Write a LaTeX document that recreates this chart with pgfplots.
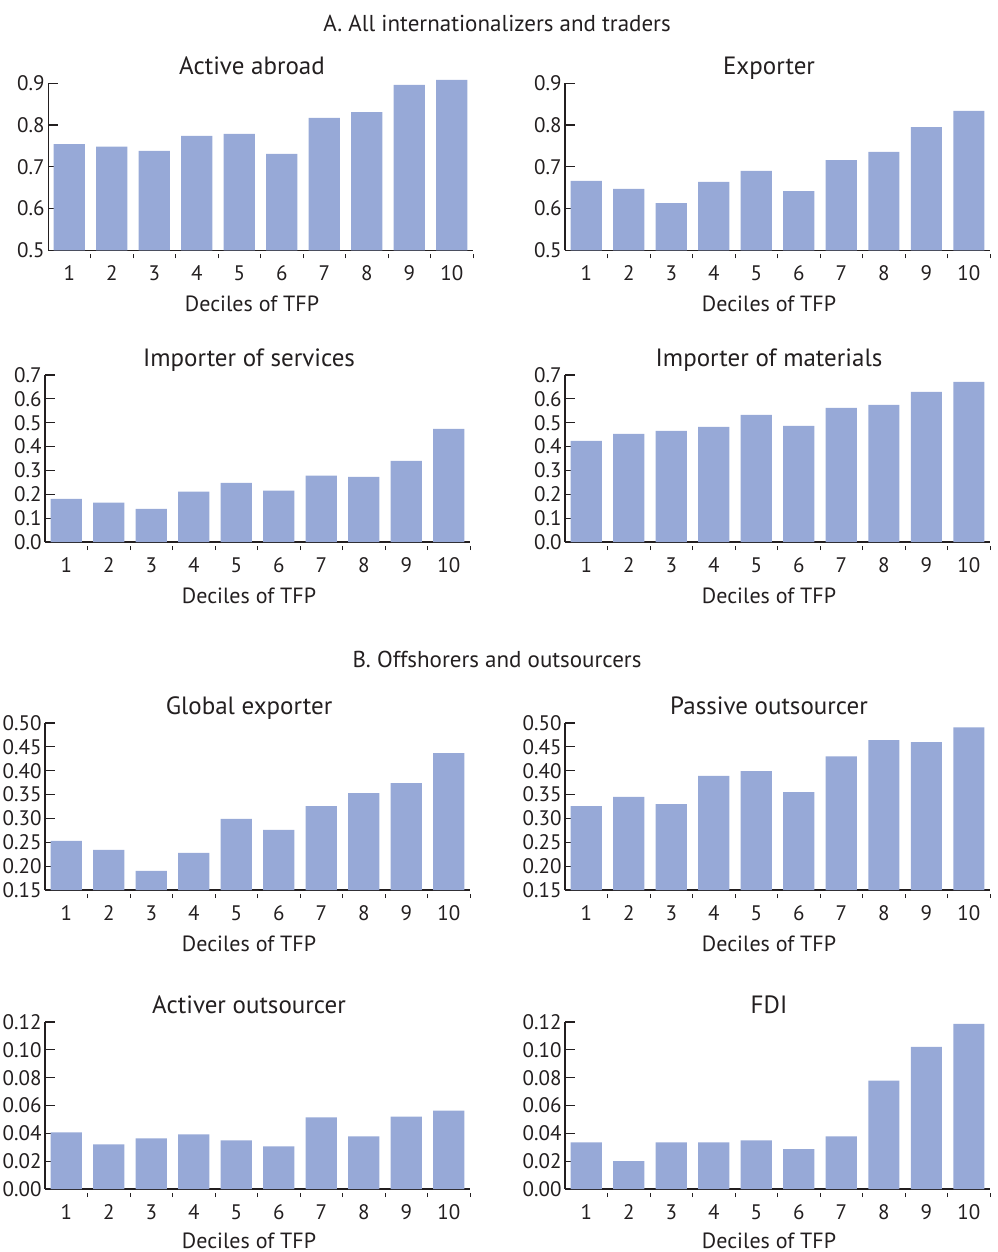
\documentclass[border=0pt]{standalone}
\usepackage{pgfplots}
\pgfplotsset{compat=1.18}
\usepackage{fontspec}
\setmainfont{PT Sans}

\definecolor{barblue}{RGB}{151,169,215}
\definecolor{ink}{RGB}{35,31,32}

\pgfplotsset{
  decile/.style={
    scale only axis, width=425pt, height=167pt,
    axis x line*=bottom, axis y line*=left,
    axis line style={ink, line width=1.2pt},
    xmin=0.5, xmax=10.5,
    xtick={1,...,10},
    major x tick style={draw=none},
    minor xtick={1.5,2.5,3.5,4.5,5.5,6.5,7.5,8.5,9.5,10.5},
    minor x tick style={ink, line width=1pt, yshift=-4pt},
    minor tick length=4pt,
    tick align=inside,
    major tick length=10pt,
    y tick style={ink, line width=1.2pt},
    ticklabel style={font=\fontsize{21}{21}\selectfont, text=ink},
    /pgf/number format/assume math mode=true,
    xticklabel style={anchor=base, yshift=-20pt},
    yticklabel style={/pgf/number format/fixed, /pgf/number format/fixed zerofill},
    xlabel={Deciles of TFP},
    xlabel style={at={(axis description cs:0.48,0)}, anchor=base, yshift=-61pt,
      font=\fontsize{22}{22}\selectfont, text=ink},
    title style={at={(axis description cs:0.48,1)}, anchor=base, yshift=3pt,
      font=\fontsize{25}{25}\selectfont, text=ink},
    ybar, bar width=0.73, bar shift=0pt,
  },
  bars/.style={fill=barblue, draw=none},
  rowA/.style={ymin=0.5, ymax=0.9, ytick={0.5,0.6,0.7,0.8,0.9},
    yticklabel style={/pgf/number format/precision=1}},
  rowB/.style={ymin=0, ymax=0.7, ytick={0,0.1,0.2,0.3,0.4,0.5,0.6,0.7},
    yticklabel style={/pgf/number format/precision=1}},
  rowC/.style={ymin=0.15, ymax=0.5, ytick={0.15,0.2,0.25,0.3,0.35,0.4,0.45,0.5},
    yticklabel style={/pgf/number format/precision=2}},
  rowD/.style={ymin=0, ymax=0.12, ytick={0,0.02,0.04,0.06,0.08,0.1,0.12},
    yticklabel style={/pgf/number format/precision=2},
    xlabel style={yshift=2pt}},
}

\begin{document}
\begin{tikzpicture}
\useasboundingbox (0,0) rectangle (997pt,-1252pt);

\node[anchor=base, font=\fontsize{23}{23}\selectfont, text=ink] at (497pt,-32pt)
  {A. All internationalizers and traders};
\node[anchor=base, font=\fontsize{23}{23}\selectfont, text=ink] at (497pt,-667pt)
  {B. Offshorers and outsourcers};

% Row 1 (last bar pokes above 0.9, so the range runs to 0.91 and the y line stops at 0.9)
\begin{axis}[decile, rowA, ymax=0.91, height=171.2pt, y axis line style={draw=none},
  at={(48pt,-250.3pt)}, anchor=south west, title={Active abroad},
  title style={yshift=-4.2pt}]
\addplot[bars] coordinates {(1,0.754) (2,0.748) (3,0.738) (4,0.774) (5,0.779)
  (6,0.731) (7,0.817) (8,0.831) (9,0.896) (10,0.908)};
\draw[ink, line width=1.2pt] (axis cs:0.5,0.5) -- (axis cs:0.5,0.9);
\end{axis}

\begin{axis}[decile, rowA, at={(565pt,-250.3pt)}, anchor=south west, title={Exporter}]
\addplot[bars] coordinates {(1,0.666) (2,0.647) (3,0.613) (4,0.664) (5,0.690)
  (6,0.642) (7,0.716) (8,0.736) (9,0.795) (10,0.834)};
\end{axis}

% Row 2
\begin{axis}[decile, rowB, at={(45pt,-542pt)}, anchor=south west, title={Importer of services}]
\addplot[bars] coordinates {(1,0.181) (2,0.165) (3,0.139) (4,0.211) (5,0.248)
  (6,0.215) (7,0.278) (8,0.273) (9,0.340) (10,0.474)};
\end{axis}

\begin{axis}[decile, rowB, at={(565pt,-542pt)}, anchor=south west, title={Importer of materials}]
\addplot[bars] coordinates {(1,0.424) (2,0.453) (3,0.466) (4,0.483) (5,0.533)
  (6,0.487) (7,0.562) (8,0.575) (9,0.629) (10,0.671)};
\end{axis}

% Row 3
\begin{axis}[decile, rowC, at={(45pt,-890pt)}, anchor=south west, title={Global exporter}]
\addplot[bars] coordinates {(1,0.253) (2,0.234) (3,0.190) (4,0.228) (5,0.299)
  (6,0.276) (7,0.326) (8,0.353) (9,0.374) (10,0.437)};
\end{axis}

\begin{axis}[decile, rowC, at={(565pt,-890pt)}, anchor=south west, title={Passive outsourcer}]
\addplot[bars] coordinates {(1,0.326) (2,0.345) (3,0.330) (4,0.389) (5,0.399)
  (6,0.355) (7,0.430) (8,0.464) (9,0.460) (10,0.491)};
\end{axis}

% Row 4
\begin{axis}[decile, rowD, at={(45pt,-1189pt)}, anchor=south west, title={Activer outsourcer}]
\addplot[bars] coordinates {(1,0.0407) (2,0.0321) (3,0.0364) (4,0.0393) (5,0.0350)
  (6,0.0307) (7,0.0514) (8,0.0379) (9,0.0521) (10,0.0564)};
\end{axis}

\begin{axis}[decile, rowD, at={(565pt,-1189pt)}, anchor=south west, title={FDI}]
\addplot[bars] coordinates {(1,0.0336) (2,0.0200) (3,0.0336) (4,0.0336) (5,0.0350)
  (6,0.0286) (7,0.0379) (8,0.0779) (9,0.1021) (10,0.1186)};
\end{axis}

\end{tikzpicture}
\end{document}
